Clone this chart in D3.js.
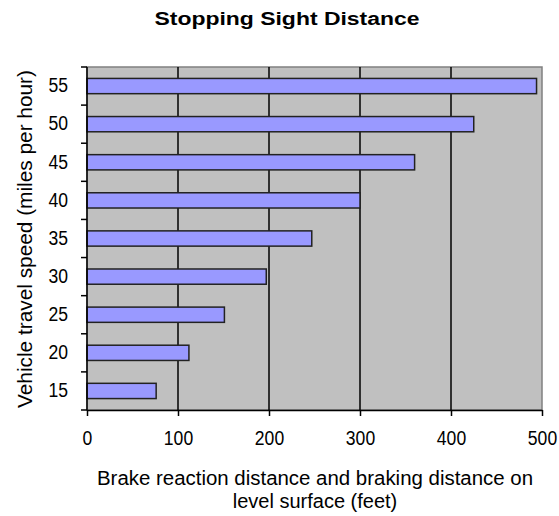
<!DOCTYPE html>
<html><head><meta charset="utf-8">
<script src="https://cdn.jsdelivr.net/npm/d3@7"></script>
<style>body{margin:0;background:#fff}svg{display:block}text{font-family:"Liberation Sans",Arial,sans-serif;fill:#000}</style>
</head><body><svg id="c" width="559" height="516"></svg>
<script>
const speeds = ["15","20","25","30","35","40","45","50","55"];
const distances = [76, 112, 151, 197, 247, 300, 360, 425, 494];
const xTicks = [0, 100, 200, 300, 400, 500];

const svg = d3.select("#c");
const L = 87, R = 542, T = 67, B = 410;
const x = d3.scaleLinear().domain([0, 500]).range([L, R]);
const y = d3.scaleBand().domain(speeds.slice().reverse()).range([T, B]).paddingInner(0.6).paddingOuter(0.3);

function condense(sel, f) {
  sel.each(function () {
    const w = this.getComputedTextLength();
    d3.select(this).attr("textLength", w * f).attr("lengthAdjust", "spacingAndGlyphs");
  });
}

svg.append("rect").attr("x", L).attr("y", T).attr("width", R - L).attr("height", B - T)
  .attr("fill", "#c0c0c0").attr("stroke", "#808080").attr("stroke-width", 1.5);

svg.append("g").selectAll("line").data(xTicks.slice(1, -1)).join("line")
  .attr("x1", d => x(d)).attr("x2", d => x(d)).attr("y1", T).attr("y2", B)
  .attr("stroke", "#000").attr("stroke-width", 1.5);

svg.append("g").selectAll("rect").data(speeds).join("rect")
  .attr("x", x(0)).attr("y", d => y(d))
  .attr("width", (d, i) => x(distances[i]) - x(0)).attr("height", y.bandwidth())
  .attr("fill", "#9999ff").attr("stroke", "#222").attr("stroke-width", 1.5);

const xa = svg.append("g").attr("transform", `translate(0,${B})`)
  .call(d3.axisBottom(x).tickValues(xTicks).tickSize(6).tickPadding(15).tickSizeOuter(0));
const ya = svg.append("g").attr("transform", `translate(${L},0)`)
  .call(d3.axisLeft(y).tickSize(0).tickPadding(19));
const yb = [];
for (let i = 0; i <= speeds.length; i++) yb.push(T + i * (B - T) / speeds.length);
svg.append("g").selectAll("line").data(yb).join("line")
  .attr("x1", L - 6).attr("x2", L).attr("y1", d => d).attr("y2", d => d)
  .attr("stroke", "#000").attr("stroke-width", 1.5);

[xa, ya].forEach(g => {
  g.select(".domain").attr("stroke", "#000").attr("stroke-width", 1.5);
  g.selectAll(".tick line").attr("stroke", "#000").attr("stroke-width", 1.5);
  g.selectAll("text").attr("font-size", 19.5).attr("font-family", "Liberation Sans, Arial, sans-serif");
});
ya.select(".domain").attr("d", `M0,${T}V${B}`);
condense(xa.selectAll("text"), 0.9);
condense(ya.selectAll("text"), 0.9);

svg.append("text").attr("x", 287).attr("y", 25).attr("text-anchor", "middle")
  .attr("font-size", 18).attr("font-weight", "bold").attr("textLength", 265)
  .attr("lengthAdjust", "spacingAndGlyphs").text("Stopping Sight Distance");

svg.append("text").attr("x", 315).attr("y", 485).attr("text-anchor", "middle")
  .attr("font-size", 20).attr("textLength", 436).attr("lengthAdjust", "spacingAndGlyphs")
  .text("Brake reaction distance and braking distance on");
svg.append("text").attr("x", 315).attr("y", 508).attr("text-anchor", "middle")
  .attr("font-size", 20).text("level surface (feet)");

svg.append("text").attr("transform", `translate(32,239) rotate(-90)`).attr("text-anchor", "middle")
  .attr("font-size", 20).attr("textLength", 338).attr("lengthAdjust", "spacingAndGlyphs")
  .text("Vehicle travel speed (miles per hour)");
</script></body></html>
